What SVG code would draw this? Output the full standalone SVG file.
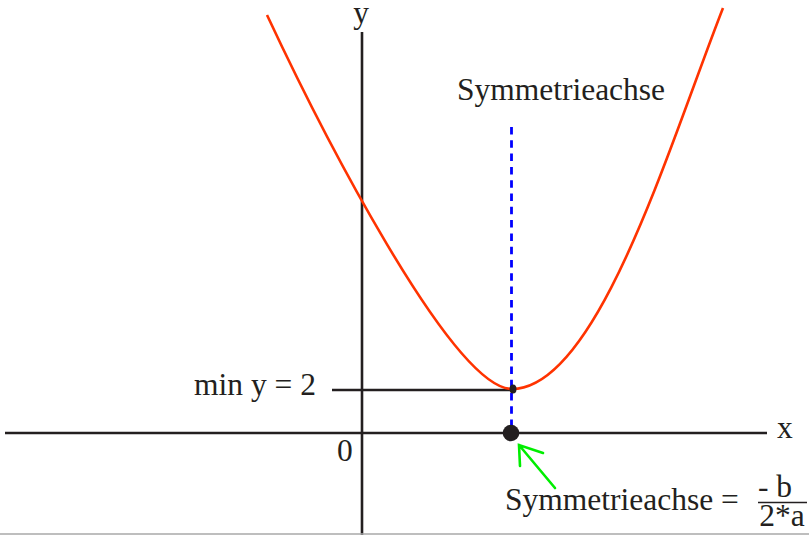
<svg xmlns="http://www.w3.org/2000/svg" width="809" height="535" viewBox="0 0 809 535">
<style>
text{font-family:"Liberation Serif","Times New Roman",serif;fill:#231f20;font-size:31.5px}
.axis{stroke:#231f20;stroke-width:2.6;fill:none}
.curve{stroke:#ff3300;stroke-width:2.6;fill:none}
.sym{stroke:#0000ff;stroke-width:2.8;stroke-dasharray:7.5 5.8;fill:none}
.arrow{stroke:#00ee00;stroke-width:2.6;fill:none;stroke-linecap:round}
</style>
<rect width="809" height="535" fill="#ffffff"/>
<g id="connectors">
<line class="axis" x1="5" y1="433" x2="767" y2="433"/>
<line class="axis" x1="362" y1="32" x2="362" y2="535"/>
<line class="axis" x1="332" y1="390" x2="512" y2="390"/>
<line x1="0" y1="534" x2="809" y2="534" stroke="#a8a8a8" stroke-width="1.5"/>
<path class="curve" d="M267,15 C318,124 452,389 512,389 C597,389 668.4,147.7 723,8"/>
<line class="sym" x1="511.5" y1="127" x2="511.5" y2="433"/>
<path class="arrow" d="M555,488 L519,445 M543,453 L519,445 L520,466"/>
</g>
<g id="vertex"><ellipse cx="513" cy="389" rx="3.5" ry="4.5" fill="#231f20"/></g>
<g id="root"><circle cx="511" cy="433" r="8.3" fill="#231f20"/></g>
<g id="labels">
<text x="361" y="23" text-anchor="middle">y</text>
<text x="561" y="100" text-anchor="middle">Symmetrieachse</text>
<text x="777" y="438">x</text>
<text x="337" y="461" font-size="29">0</text>
<text x="194" y="395">min y = 2</text>
<text x="505" y="510">Symmetrieachse =</text>
</g>
<g id="formula">
<text x="775" y="497" text-anchor="middle" font-size="29">- b</text>
<line x1="758" y1="502.5" x2="807" y2="502.5" stroke="#231f20" stroke-width="1.5"/>
<text x="782" y="526" text-anchor="middle" font-size="29">2*a</text>
</g>
</svg>
